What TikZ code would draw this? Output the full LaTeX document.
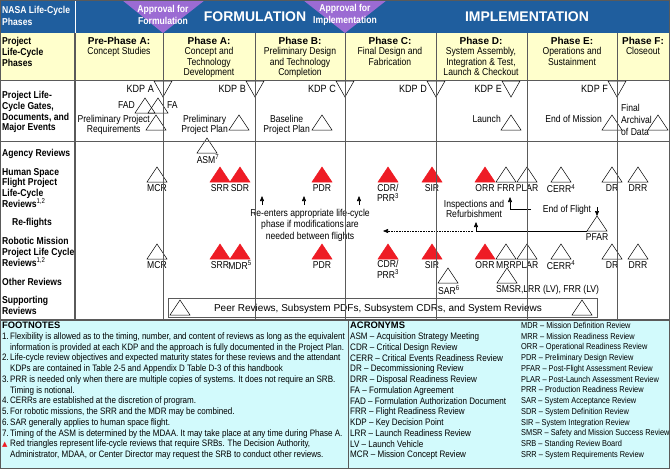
\documentclass[tikz,border=0pt]{standalone}
\usepackage{fontspec}
\setmainfont{Liberation Sans}[FakeStretch=0.86]
\newfontfamily\widefont{Liberation Sans}
\newfontfamily\symfont{DejaVu Sans}
\usetikzlibrary{arrows.meta}
\definecolor{cBand}{HTML}{1F5E9E}
\definecolor{cAppr}{HTML}{9B6BD3}
\definecolor{cPhase}{HTML}{FFFFCC}
\definecolor{cNote}{HTML}{D2FAFC}
\definecolor{cSrb}{HTML}{EE1C25}
\definecolor{cGrid}{HTML}{5A5A5A}
\tikzset{
  grid/.style={draw=cGrid,line width=.6pt},
  rev/.style={draw=black,line width=.5pt,line join=miter},
  srb/.style={draw=cSrb,fill=cSrb,line width=.5pt,line join=miter},
  kdp/.style={draw=black,line width=.5pt,line join=miter},
  lbl/.style={inner sep=0pt,font=\fontsize{10}{10.5}\selectfont},
  rowlbl/.style={inner sep=0pt,anchor=north west,align=left,font=\bfseries\fontsize{10}{10.8}\selectfont},
  phs/.style={inner sep=0pt,anchor=north,align=center,font=\fontsize{10}{10.5}\selectfont},
  band/.style={inner sep=0pt,text=white,align=left,font=\bfseries\fontsize{10}{11.6}\selectfont},
  appr/.style={inner sep=0pt,text=white,align=center,font=\bfseries\fontsize{10}{12}\selectfont},
  era/.style={inner sep=0pt,text=white,font=\widefont\bfseries\fontsize{14}{14}\selectfont},
  flow/.style={-{Triangle[length=5pt,width=4pt]},line width=.6pt},
  note/.style={inner sep=0pt,anchor=north west,align=left,font=\fontsize{9.35}{10.75}\selectfont},
}
% review triangle: x of apex, y of base
\newcommand\uptri[3][rev]{\draw[#1] ({#2-10},#3) -- ({#2+10},#3) -- (#2,{#3-15}) -- cycle;}
\newcommand\ttl[1]{{\widefont\bfseries #1}}

\begin{document}
\begin{tikzpicture}[x=1pt,y=-1pt]
  \useasboundingbox (0,0) rectangle (670,469);
  % ---------------- backgrounds
  \fill[cBand] (0,0) rectangle (670,33);
  \fill[cPhase] (0,33) rectangle (670,80);
  \fill[cNote] (0,321) rectangle (670,469);
  \fill[cAppr] (122,0) -- (205,0) -- (163,33) -- cycle;
  \fill[cAppr] (303,0) -- (387,0) -- (345,33) -- cycle;
  \draw[white,line width=1pt] (75,0) -- (75,33);
  % ---------------- top band
  \node[band,anchor=north west] (nasa) at (2,6) {NASA Life-Cycle\\Phases};
  \node[appr] (apf) at (163,15) {Approval for\\Formulation};
  \node[appr] (api) at (345,15) {Approval for\\Implementation};
  \node[era] (form) at (255,17) {FORMULATION};
  \node[era] (impl) at (527,17) {IMPLEMENTATION};
  % ---------------- phases
  \node[rowlbl] (lphs) at (2,37) {Project\\Life-Cycle\\Phases};
  \node[phs] (pre) at (119,37) {\ttl{Pre-Phase A:}\\Concept Studies};
  \node[phs] (pha) at (209,37) {\ttl{Phase A:}\\Concept and\\Technology\\Development};
  \node[phs] (phb) at (300,37) {\ttl{Phase B:}\\Preliminary Design\\and Technology\\Completion};
  \node[phs] (phc) at (390,37) {\ttl{Phase C:}\\Final Design and\\Fabrication};
  \node[phs] (phd) at (481,37) {\ttl{Phase D:}\\System Assembly,\\Integration \& Test,\\Launch \& Checkout};
  \node[phs] (phe) at (572,37) {\ttl{Phase E:}\\Operations and\\Sustainment};
  \node[phs] (phf) at (643,37) {\ttl{Phase F:}\\Closeout};
  % ---------------- gates, documents, events
  \node[rowlbl] (lgate) at (2,91) {Project Life-\\Cycle Gates,\\Documents, and\\Major Events};
  \foreach \x/\t in {163/A,255/B,345/C,436/D,511/E,617/F}{
    \draw[kdp] ({\x-9},81) -- ({\x+9},81) -- (\x,97) -- cycle;
    \node[lbl,anchor=east,font=\fontsize{10.5}{11}\selectfont] (kdp\t) at ({\x-9},89) {KDP \t};
  }
  \uptri{145}{113}
  \uptri{158}{113}
  \node[lbl,anchor=east] (fad) at (135,105) {FAD};
  \node[lbl,anchor=west] (fa) at (167,105) {FA};
  \foreach \x in {156,239,322,511,612,658}{\uptri{\x}{130}}
  \node[lbl,anchor=east,align=center] (ppr) at (150,125) {Preliminary Project\\Requirements};
  \node[lbl,anchor=east,align=center] (ppp) at (228,125) {Preliminary\\Project Plan};
  \node[lbl,anchor=east,align=center] (bpp) at (310,125) {Baseline\\Project Plan};
  \node[lbl,anchor=east] (lch) at (501,119) {Launch};
  \node[lbl,anchor=east] (eom) at (602,119) {End of Mission};
  \node[lbl,anchor=west,align=left,font=\fontsize{10}{12.3}\selectfont] (arch) at (621,120) {Final\\Archival\\of Data};
  % ---------------- agency reviews
  \node[rowlbl] (lagy) at (2,149) {Agency Reviews};
  \uptri{207}{153}
  \node[lbl] (asm) at (208,159) {ASM\textsuperscript{7}};
  % ---------------- human space flight
  \node[rowlbl] (lhsf) at (2,168) {Human Space\\Flight Project\\Life-Cycle\\Reviews\textsuperscript{\mdseries 1,2}};
  \foreach \x/\t/\s [count=\i] in {157/MCR/rev,220/SRR/srb,240/SDR/srb,322/PDR/srb,432/SIR/srb,485/ORR/srb,
      506/FRR/rev,527/PLAR/rev,561/CERR\textsuperscript{4}/rev,612/DR/rev,638/DRR/rev}{
    \uptri[\s]{\x}{182}
    \node[lbl] (hsf\i) at (\x,188.5) {\t};
  }
  \uptri[srb]{388}{182}
  \node[lbl,align=center,anchor=north] (hcdr) at (388,184) {CDR/\\PRR\textsuperscript{3}};
  % re-flights
  \node[rowlbl] (lrfl) at (12,218) {Re-flights};
  \node[lbl,align=center,font=\fontsize{10}{11.5}\selectfont] (reent) at (310,225) {Re-enters appropriate life-cycle\\phase if modifications are\\needed between flights};
  \foreach \x [count=\i] in {262,304,359}{
    \coordinate (rb\i) at (\x,205);
    \coordinate (rt\i) at (\x,196);
    \draw[flow] (rb\i) -- (rt\i);
  }
  \node[lbl,align=center] (insp) at (474,209) {Inspections and\\Refurbishment};
  \node[lbl] (eof) at (567,210) {End of Flight};
  \coordinate (eofl) at (531,209);
  \coordinate (frrup) at (510,197);
  \draw[flow] (eofl) -| (frrup);
  \coordinate (eofr) at (597,207);
  \coordinate (pfar) at (597,216);
  \draw[flow] (eofr) -- (pfar);
  \uptri{597}{231}
  \node[lbl] (lpfar) at (597,237.5) {PFAR};
  \coordinate (pfarb) at (587,231);
  \coordinate (refup) at (476,222);
  \draw[flow] (pfarb) -| (refup);
  \coordinate (dotr) at (473,231);
  \coordinate (dotl) at (383,231);
  \draw[flow,densely dotted] (dotr) -- (dotl);
  % ---------------- robotic mission
  \node[rowlbl] (lrob) at (2,237) {Robotic Mission\\Project Life Cycle\\Reviews\textsuperscript{\mdseries 1,2}};
  \foreach \x/\t/\s [count=\i] in {157/MCR/rev,220/SRR/srb,240/MDR\textsuperscript{5}/srb,322/PDR/srb,432/SIR/srb,485/ORR/srb,
      506/MRR/rev,527/PLAR/rev,561/CERR\textsuperscript{4}/rev,612/DR/rev,638/DRR/rev}{
    \uptri[\s]{\x}{259}
    \node[lbl] (rob\i) at (\x,265) {\t};
  }
  \uptri[srb]{388}{259}
  \node[lbl,align=center,anchor=north] (rcdr) at (388,260.5) {CDR/\\PRR\textsuperscript{3}};
  % ---------------- other and supporting reviews
  \node[rowlbl] (loth) at (2,278) {Other Reviews};
  \uptri{448}{283}
  \node[lbl] (sar) at (449,290) {SAR\textsuperscript{6}};
  \uptri{507}{283}
  \node[lbl,anchor=west] (smsr) at (496,290) {SMSR,LRR (LV), FRR (LV)};
  \node[rowlbl] (lsup) at (2,296) {Supporting\\Reviews};
  \draw[grid] (168,298) rectangle (597,317);
  \uptri{180}{315}
  \uptri{582}{315}
  \node[inner sep=0pt,font=\widefont\fontsize{10}{11}\selectfont] (peer) at (378,309) {Peer Reviews, Subsystem PDFs, Subsystem CDRs, and System Reviews};
  % ---------------- grid lines
  \foreach \x in {163,255,345,436,527,617}{\draw[grid] (\x,33) -- (\x,320);}
  \draw[grid,line width=1.3pt] (75,33) -- (75,320);
  \draw[grid,line width=1pt] (0,80) -- (670,80);
  \draw[grid] (0,141) -- (670,141);
  \draw[cGrid,line width=2.5pt] (0,320) -- (670,320);
  \draw[grid] (348,321) -- (348,469);
  \draw[cGrid,line width=1pt] (0.5,0.5) rectangle (669.5,468.5);
  % ---------------- footnotes and acronyms
  \node[note] (fnote) at (2,322) {\ttl{FOOTNOTES}\\
    \makebox[8pt][l]{1.}Flexibility is allowed as to the timing, number, and content of reviews as long as the equivalent\\
    \hspace*{8pt}information is provided at each KDP and the approach is fully documented in the Project Plan.\\
    \makebox[8pt][l]{2.}Life-cycle review objectives and expected maturity states for these reviews and the attendant\\
    \hspace*{8pt}KDPs are contained in Table 2-5 and Appendix D Table D-3 of this handbook\\
    \makebox[8pt][l]{3.}PRR is needed only when there are multiple copies of systems. It does not require an SRB.\\
    \hspace*{8pt}Timing is notional.\\
    \makebox[8pt][l]{4.}CERRs are established at the discretion of program.\\
    \makebox[8pt][l]{5.}For robotic missions, the SRR and the MDR may be combined.\\
    \makebox[8pt][l]{6.}SAR generally applies to human space flight.\\
    \makebox[8pt][l]{7.}Timing of the ASM is determined by the MDAA. It may take place at any time during Phase A.\\
    \makebox[8pt][l]{\textcolor{cSrb}{\symfont\fontsize{7}{7}\selectfont ▲}}Red triangles represent life-cycle reviews that require SRBs. The Decision Authority,\\
    \hspace*{8pt}Administrator, MDAA, or Center Director may request the SRB to conduct other reviews.};
  \node[note,font=\fontsize{9.4}{10.75}\selectfont] (acr1) at (350,322) {\ttl{ACRONYMS}\\
    ASM -- Acquisition Strategy Meeting\\
    CDR -- Critical Design Review\\
    CERR -- Critical Events Readiness Review\\
    DR -- Decommissioning Review\\
    DRR -- Disposal Readiness Review\\
    FA -- Formulation Agreement\\
    FAD -- Formulation Authorization Document\\
    FRR -- Flight Readiness Review\\
    KDP -- Key Decision Point\\
    LRR -- Launch Readiness Review\\
    LV -- Launch Vehicle\\
    MCR -- Mission Concept Review};
  \node[note,font=\fontsize{8.6}{10.75}\selectfont] (acr2) at (521,322) {MDR -- Mission Definition Review\\
    MRR -- Mission Readiness Review\\
    ORR -- Operational Readiness Review\\
    PDR -- Preliminary Design Review\\
    PFAR -- Post-Flight Assessment Review\\
    PLAR -- Post-Launch Assessment Review\\
    PRR -- Production Readiness Review\\
    SAR -- System Acceptance Review\\
    SDR -- System Definition Review\\
    SIR -- System Integration Review\\
    SMSR -- Safety and Mission Success Review\\
    SRB -- Standing Review Board\\
    SRR -- System Requirements Review};
\end{tikzpicture}
\end{document}
